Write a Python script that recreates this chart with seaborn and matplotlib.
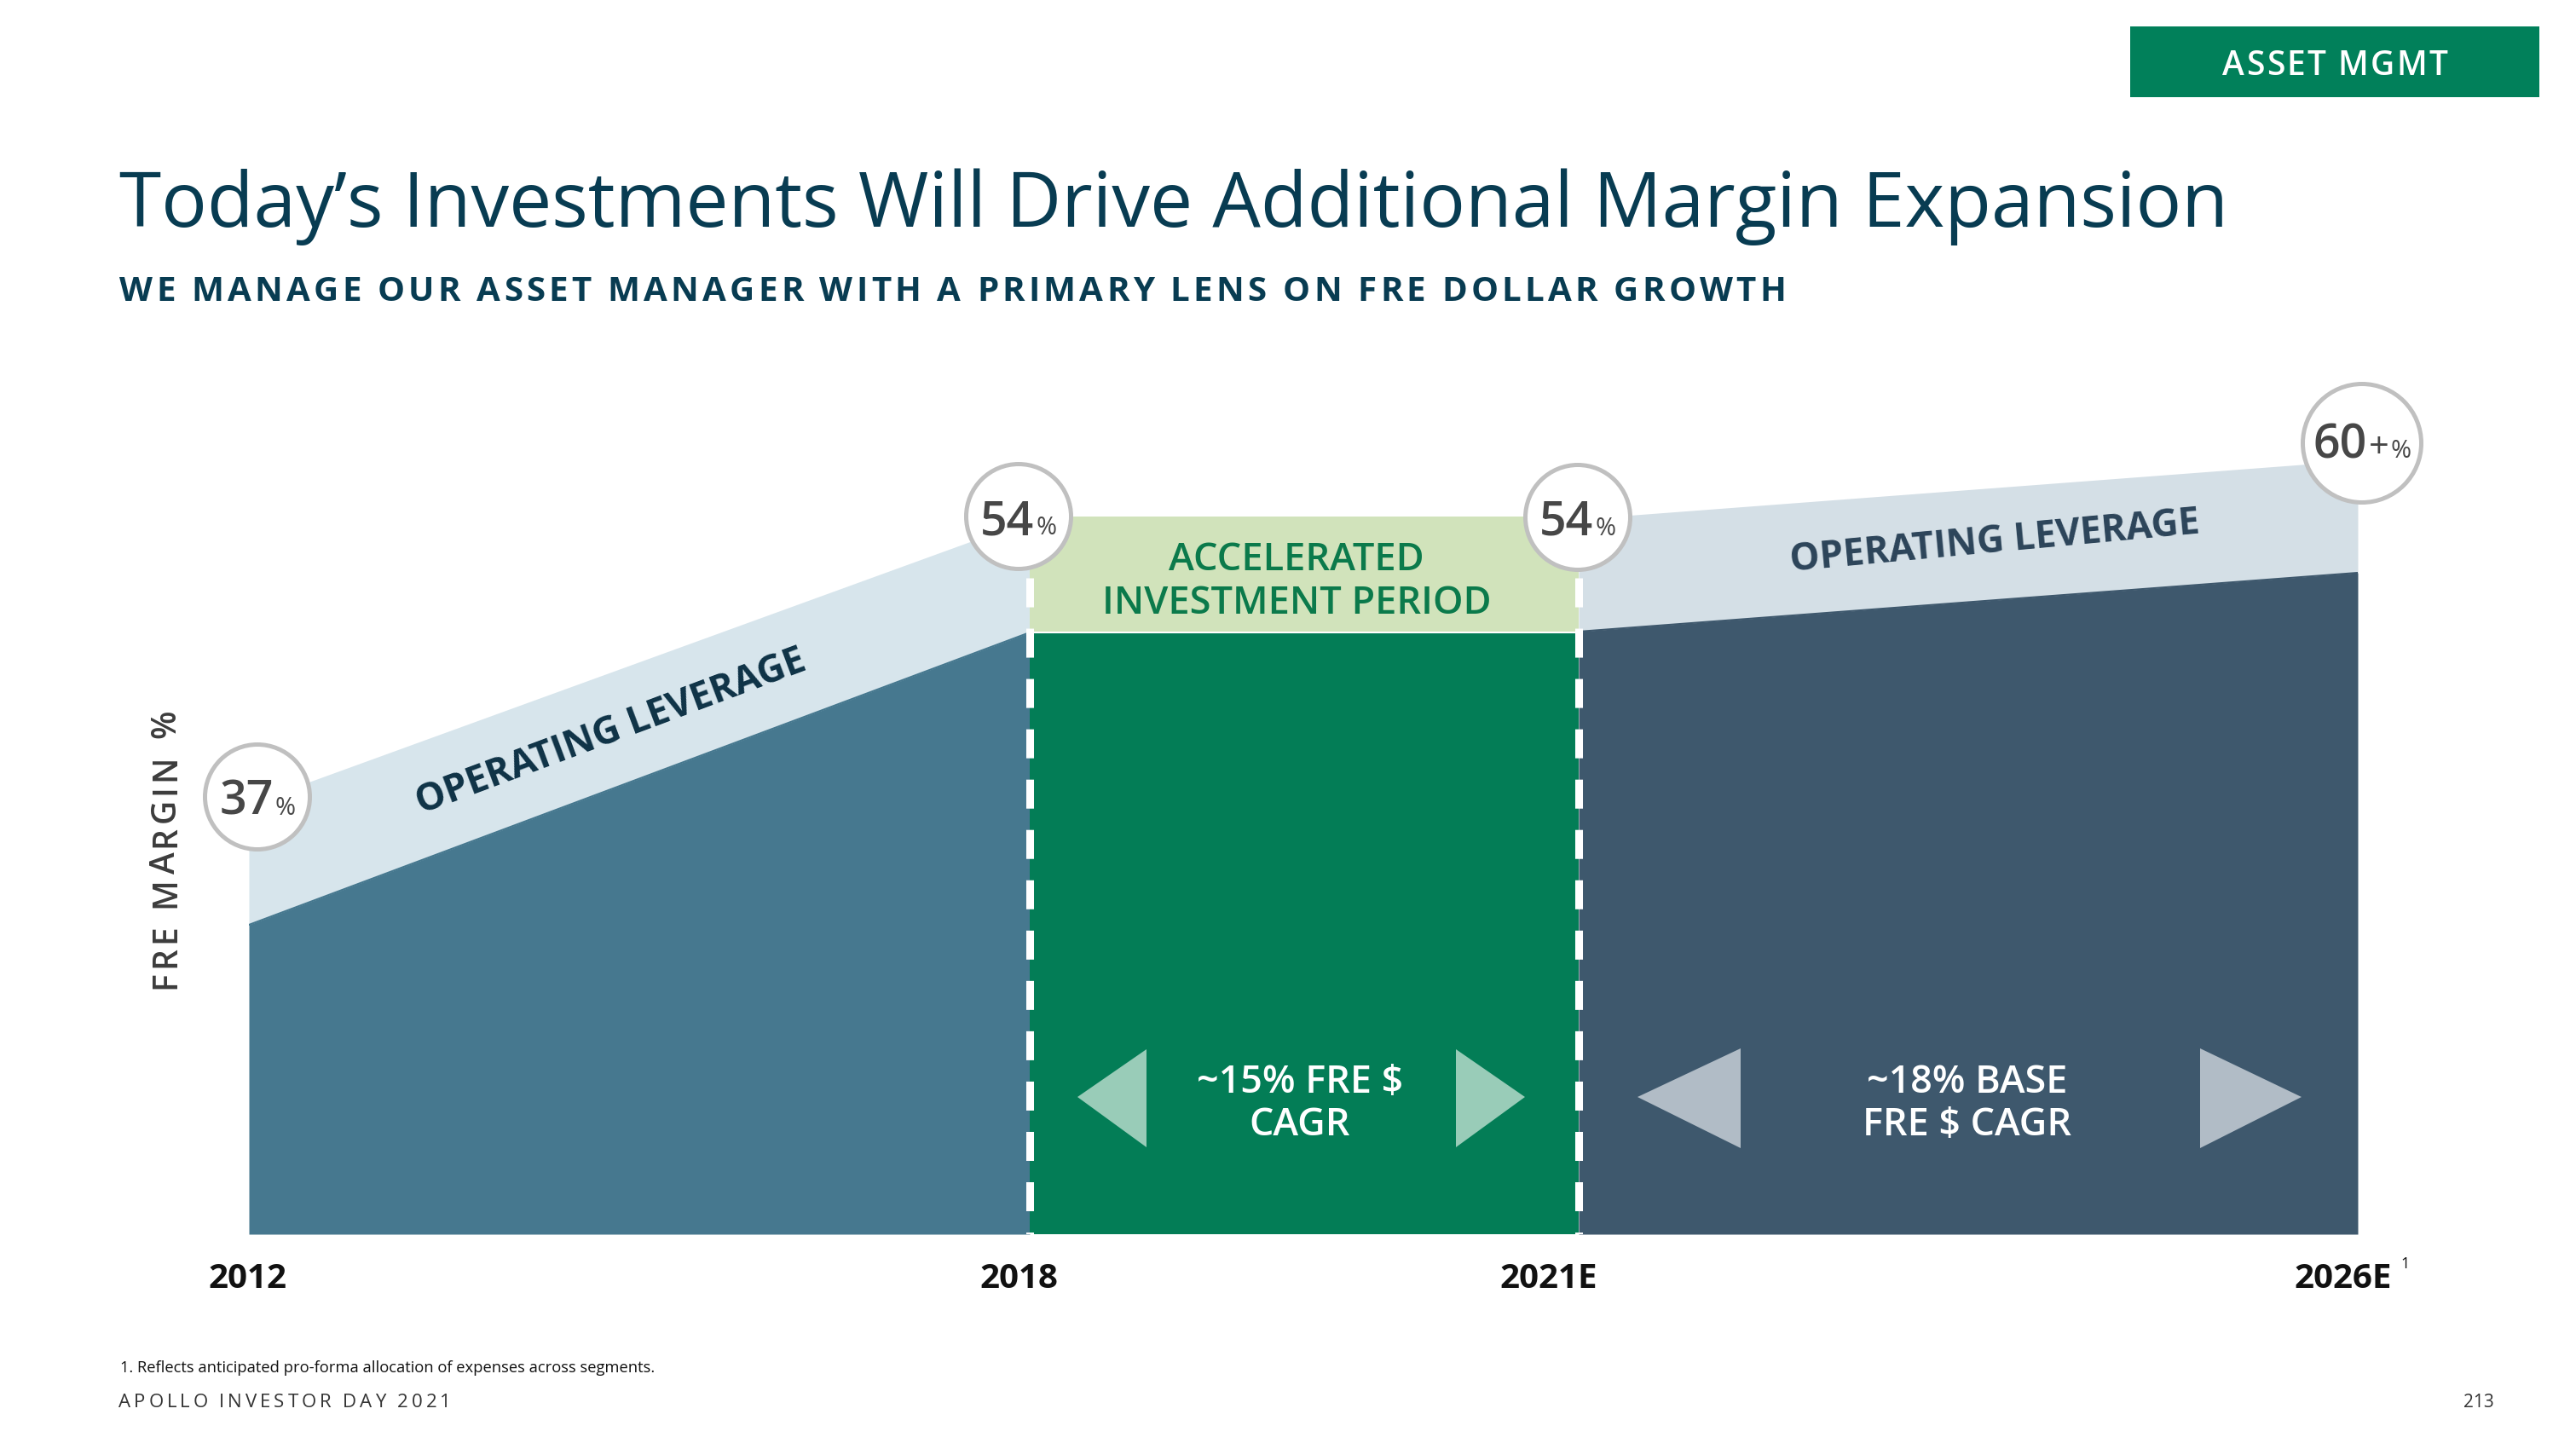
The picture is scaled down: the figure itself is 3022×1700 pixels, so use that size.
import numpy as np
import pandas as pd
import matplotlib
matplotlib.use("Agg")
import matplotlib.pyplot as plt
from matplotlib.transforms import IdentityTransform
from matplotlib.patches import Rectangle, Polygon
import seaborn as sns

# ---------------- DATA ----------------
periods = ["2012", "2018", "2021E", "2026E"]
margin_values = ["37", "54", "54", "60"]
margin_suffix = ["", "", "", "+"]
# schematic heights (chart units 0-100)
left_base = [36.3, 70.6]     # FRE margin area 2012 -> 2018
left_band = [50.5, 83.8]     # operating leverage band top
mid_base = [70.6, 70.6]      # 2018 -> 2021E
mid_band = [84.2, 84.2]
right_base = [70.7, 77.6]    # 2021E -> 2026E
right_band = [83.9, 90.8]
band_labels = ["OPERATING LEVERAGE", ["ACCELERATED", "INVESTMENT PERIOD"], "OPERATING LEVERAGE"]
cagr_labels = [["~15% FRE $", "CAGR"], ["~18% BASE", "FRE $ CAGR"]]
title = "Today\u2019s Investments Will Drive Additional Margin Expansion"
subtitle = "WE MANAGE OUR ASSET MANAGER WITH A PRIMARY LENS ON FRE DOLLAR GROWTH"
ylabel = "FRE MARGIN %"
tag = "ASSET MGMT"
footnote = "1. Reflects anticipated pro-forma allocation of expenses across segments."
footer = "APOLLO INVESTOR DAY 2021"
page = "213"

# ---------------- LAYOUT / STYLE ----------------
W, H = 3022, 1700
period_x = [0, 916, 1560, 2474]
label_dx = [-2, -13, -35, -17]
bubble_dx = [10, -13, -1, 5]
bubble_dy = [0.8, 0.0, -0.1, 2.0]
bubble_r = [64, 64, 64, 72]
C_LEFT, C_LEFT_L = "#46788f", "#d7e5ec"
C_GREEN, C_GREEN_L = "#037d56", "#d1e3bb"
C_RIGHT, C_RIGHT_L = "#3e586d", "#d4dfe6"
C_TRI_G, C_TRI_S = "#99ccb8", "#b1bcc6"
NAVY = "#083c52"
FONT = ["Open Sans", "DejaVu Sans"]

sns.set_theme(style="white")
plt.rcParams["font.family"] = FONT

fig = plt.figure(figsize=(W / 100, H / 100), dpi=100)
fig.patch.set_facecolor("white")
R = fig.canvas.get_renderer()
IDT = IdentityTransform()


def S(x, y):
    return x, H - y


def width_of(s, **kw):
    t = fig.text(0, 0, s, transform=IDT, **kw)
    w = t.get_window_extent(renderer=R).width
    t.remove()
    return w


def fit_size(s, target, base=20, **kw):
    return base * target / width_of(s, fontsize=base, **kw)


def put(x, y, s, **kw):
    dx, dy = S(x, y)
    return fig.text(dx, dy, s, transform=IDT, **kw)


def tracked(x, y, s, target, fontsize, ha="left", rotation=0, **kw):
    ref = width_of("ll", fontsize=fontsize, **kw)
    adv = [width_of("l" + c + "l", fontsize=fontsize, **kw) - ref for c in s]
    n = len(s)
    track = (target - sum(adv)) / (n - 1) if n > 1 else 0
    start = {"left": 0, "center": -target / 2, "right": -target}[ha]
    th = np.deg2rad(rotation)
    dx, dy = S(x, y)
    pos = start
    for c, a in zip(s, adv):
        if c != " ":
            fig.text(dx + pos * np.cos(th), dy + pos * np.sin(th), c, transform=IDT,
                     fontsize=fontsize, rotation=rotation, rotation_mode="anchor",
                     ha="left", va="baseline", **kw)
        pos += a + track


# ---------------- CHART ----------------
ax = fig.add_axes([292 / W, (H - 1448) / H, 2474 / W, 1000 / H])
ax.set_xlim(0, 2474)
ax.set_ylim(0, 100)
ax.axis("off")

segs = [
    (period_x[0:2], left_base, left_band, C_LEFT, C_LEFT_L),
    (period_x[1:3], mid_base, mid_band, C_GREEN, C_GREEN_L),
    (period_x[2:4], right_base, right_band, C_RIGHT, C_RIGHT_L),
]
for xs, base, band, c, cl in segs:
    ax.fill_between(xs, base, band, color=cl, lw=0, zorder=1)
    ax.fill_between(xs, 0, base, color=c, lw=0, zorder=2)

edges = pd.DataFrame({
    "x": period_x[0:2] + period_x[1:3] + period_x[2:4],
    "y": left_base + mid_base + right_base,
    "seg": ["a", "a", "b", "b", "c", "c"],
})
sns.lineplot(data=edges, x="x", y="y", hue="seg", palette=[C_LEFT, "white", C_RIGHT],
             legend=False, lw=1.5, ax=ax, zorder=3)
ax.set_xlabel("")
ax.set_ylabel("")

# dashed white separators
for i in (1, 2):
    ax.plot([period_x[i], period_x[i]], [77.0, 0], color="white", lw=6.5,
            linestyle=(0, (3.77, 2.77)), dash_capstyle="butt", zorder=5)

# triangles (decorative arrows)
tris = [
    ([(972, 16.1), (1053, 21.7), (1053, 10.2)], C_TRI_G),
    ([(1497, 16.1), (1416, 21.7), (1416, 10.2)], C_TRI_G),
    ([(1629, 16.1), (1750, 21.8), (1750, 10.1)], C_TRI_S),
    ([(2408, 16.1), (2289, 21.8), (2289, 10.1)], C_TRI_S),
]
for pts, c in tris:
    ax.add_patch(Polygon(pts, closed=True, color=c, lw=0, zorder=4))

# bubbles
anchor_y = [left_band[0], mid_band[0], mid_band[1], right_band[1]]
bx = [period_x[i] + bubble_dx[i] for i in range(4)]
by = [anchor_y[i] + bubble_dy[i] for i in range(4)]
sizes = [(2 * (r - 2.5) / (100 / 72)) ** 2 for r in bubble_r]
ax.scatter(bx, by, s=sizes, facecolor="white", edgecolor="#c0c0c0", linewidth=3.6,
           zorder=8, clip_on=False)

for i in range(4):
    cx, cy = ax.transData.transform((bx[i], by[i]))
    pieces = [(margin_values[i], 40, "semibold")]
    if margin_suffix[i]:
        pieces.append((margin_suffix[i], 30, "normal"))
    pieces.append(("%", 21, "normal"))
    ws = [width_of(t, fontsize=sz, fontweight=wt) for t, sz, wt in pieces]
    gap = 2
    total = sum(ws) + gap * (len(ws) - 1)
    x0 = cx - total / 2
    base_y = cy - (17 if margin_suffix[i] else 21)
    for (t, sz, wt), w in zip(pieces, ws):
        fig.text(x0, base_y, t, transform=IDT, fontsize=sz, fontweight=wt,
                 color="#474747", ha="left", va="baseline", zorder=10)
        x0 += w + gap

# period labels
for i, p in enumerate(periods):
    ax.text(period_x[i] + label_dx[i], -0.063, p, transform=ax.get_xaxis_transform(),
            ha="center", va="baseline", fontsize=29, fontweight="bold", color="#111111")
ax.text(period_x[3] + 50, -0.040, "1", transform=ax.get_xaxis_transform(),
        ha="left", va="baseline", fontsize=13, color="#111111")

# band labels
sz = fit_size(band_labels[0], 485, fontweight="bold")
put(494, 955, band_labels[0], fontsize=sz, fontweight="bold", color="#0e3246",
    rotation=20.5, rotation_mode="anchor", ha="left", va="baseline")
sz = fit_size(band_labels[2], 482, fontweight="bold")
put(2101, 670, band_labels[2], fontsize=sz, fontweight="bold", color="#2c4459",
    rotation=5.3, rotation_mode="anchor", ha="left", va="baseline")
sz = fit_size(band_labels[1][1], 456, fontweight="semibold")
put(1521, 669, band_labels[1][0], fontsize=sz, fontweight="semibold", color="#0b7a4b",
    ha="center", va="baseline")
put(1521, 720, band_labels[1][1], fontsize=sz, fontweight="semibold", color="#0b7a4b",
    ha="center", va="baseline")

# CAGR labels
sz = fit_size(cagr_labels[0][0], 242, fontweight="semibold")
for j, cx in enumerate([1525, 2308]):
    put(cx, 1282, cagr_labels[j][0], fontsize=sz, fontweight="semibold", color="white",
        ha="center", va="baseline", zorder=6)
    put(cx, 1332, cagr_labels[j][1], fontsize=sz, fontweight="semibold", color="white",
        ha="center", va="baseline", zorder=6)

# ---------------- TEXT FRAME ----------------
sz = fit_size(title, 2471)
put(140, 266, title, fontsize=sz, color=NAVY, ha="left", va="baseline")
tracked(140, 353, subtitle, 1955, 29, fontweight="bold", color=NAVY)
tracked(205, 1160, ylabel, 327, 28, rotation=90, color="#3c3c3c", fontweight="semibold")

fig.add_artist(Rectangle(S(2499, 114), 480, 83, transform=IDT, color="#01805a", lw=0))
tracked(2739, 88, tag, 264, 28, ha="center", color="white", fontweight="semibold")

sz = fit_size(footnote, 625)
put(141, 1610, footnote, fontsize=sz, color="#111111", ha="left", va="baseline")
tracked(139, 1651, footer, 390, 16, color="#333333")
put(2926, 1651, page, fontsize=15, color="#333333", ha="right", va="baseline")

fig.savefig("out.png", dpi=100, facecolor="white")
